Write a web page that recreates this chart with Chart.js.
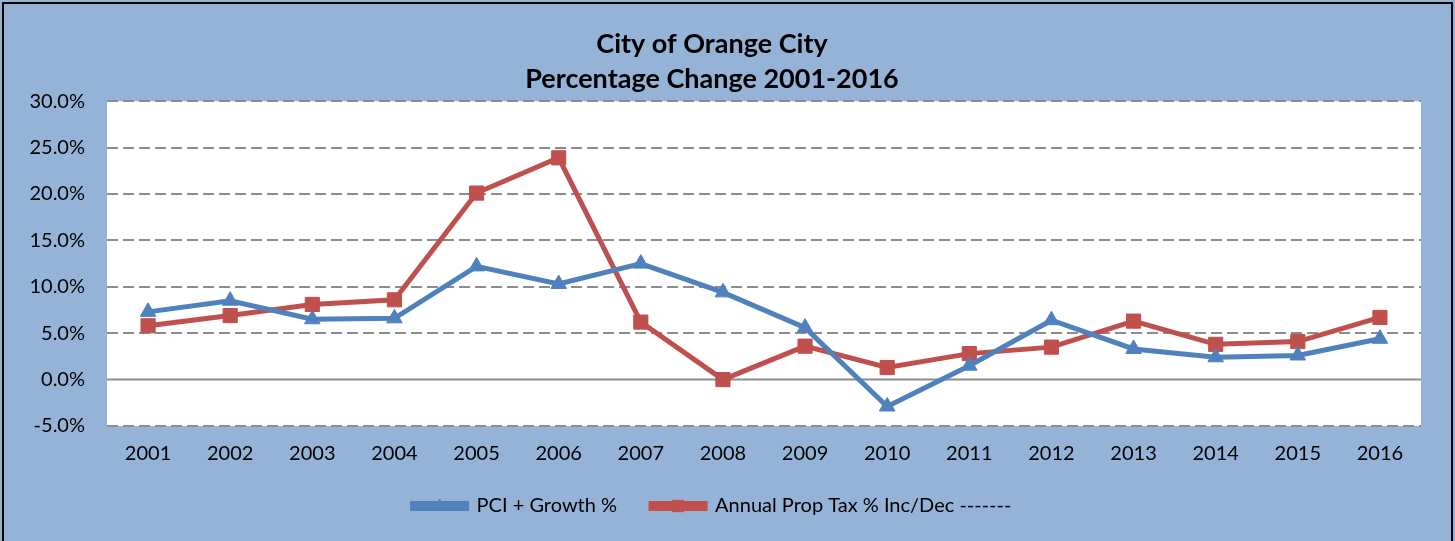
<!DOCTYPE html>
<html>
<head>
<meta charset="utf-8">
<script src="https://cdn.jsdelivr.net/npm/chart.js@4/dist/chart.umd.min.js"></script>
<style>
  html, body { margin: 0; padding: 0; background: #95b3d7; }
  #wrap { width: 1455px; height: 541px; }
</style>
</head>
<body>
<div id="wrap"><canvas id="pctChange" width="1455" height="541"></canvas></div>
<script>
// Colors
var bgColor = "#95b3d7";
var pciColor = "#4f81bd";
var taxColor = "#c0504d";
var gridColor = "#8c8c8c";

// Data
var years = ['2001', '2002', '2003', '2004', '2005', '2006', '2007', '2008',
             '2009', '2010', '2011', '2012', '2013', '2014', '2015', '2016'];
var pciGrowth = [7.3, 8.5, 6.5, 6.6, 12.2, 10.3, 12.5, 9.4, 5.6, -2.9, 1.5, 6.4, 3.3, 2.4, 2.6, 4.4];
var propTax = [5.8, 6.9, 8.1, 8.6, 20.1, 23.9, 6.2, 0.0, 3.6, 1.3, 2.8, 3.5, 6.3, 3.8, 4.1, 6.7];
var yTicks = [-5, 0, 5, 10, 15, 20, 25, 30];

Chart.defaults.font.family = "Lato, 'Open Sans', sans-serif";
Chart.defaults.color = "#000";

var legendBox = 54;

// white plot area + solid zero line + outer border + legend markers
var chartDecor = {
  id: 'chartDecor',
  beforeDraw: function(chart) {
    var ctx = chart.ctx, a = chart.chartArea;
    ctx.save();
    ctx.fillStyle = bgColor;
    ctx.fillRect(0, 0, chart.width, chart.height);
    ctx.fillStyle = "#fff";
    ctx.fillRect(a.left, a.top, a.right - a.left, a.bottom - a.top);
    ctx.restore();
  },
  beforeDatasetsDraw: function(chart) {
    var ctx = chart.ctx, a = chart.chartArea;
    var y0 = chart.scales.y.getPixelForValue(0);
    ctx.save();
    ctx.strokeStyle = gridColor;
    ctx.lineWidth = 2;
    ctx.beginPath();
    ctx.moveTo(a.left, y0);
    ctx.lineTo(a.right, y0);
    ctx.stroke();
    ctx.restore();
  },
  afterDraw: function(chart) {
    var ctx = chart.ctx;
    ctx.save();
    ctx.strokeStyle = "#000";
    ctx.lineWidth = 2;
    ctx.strokeRect(3, 3, chart.width - 6, chart.height + 10);
    // legend markers
    var boxes = chart.legend.legendHitBoxes;
    var styles = ['triangle', 'rect'];
    var radii = [7, 8];
    var colors = [pciColor, taxColor];
    for (var i = 0; i < boxes.length; i++) {
      var b = boxes[i];
      var cx = b.left + legendBox / 2, cy = b.top + b.height / 2;
      ctx.fillStyle = colors[i];
      ctx.strokeStyle = colors[i];
      ctx.lineWidth = 1;
      Chart.helpers.drawPoint(ctx, {pointStyle: styles[i], radius: radii[i], borderWidth: 1}, cx, cy);
    }
    ctx.restore();
  }
};

var pctChart = new Chart(document.getElementById('pctChange'), {
  type: 'line',
  plugins: [chartDecor],
  data: {
    labels: years,
    datasets: [
      {
        label: 'PCI + Growth %',
        data: pciGrowth,
        borderColor: pciColor,
        backgroundColor: pciColor,
        borderWidth: 5,
        pointStyle: 'triangle',
        pointRadius: 9,
        pointBorderWidth: 1,
        tension: 0
      },
      {
        label: 'Annual Prop Tax % Inc/Dec -------',
        data: propTax,
        borderColor: taxColor,
        backgroundColor: taxColor,
        borderWidth: 5,
        pointStyle: 'rect',
        pointRadius: 10,
        pointBorderWidth: 1,
        tension: 0
      }
    ]
  },
  options: {
    responsive: false,
    animation: false,
    layout: { padding: { left: 3, right: 34, top: 8, bottom: 15 } },
    plugins: {
      title: {
        display: true,
        text: ['City of Orange City', 'Percentage Change 2001-2016'],
        font: { size: 27, weight: 'bold', lineHeight: 1.3 },
        padding: { top: 19, bottom: 4 }
      },
      legend: {
        position: 'bottom',
        labels: {
          boxWidth: legendBox,
          boxHeight: 5,
          padding: 34,
          font: { size: 20 }
        }
      },
      tooltip: { enabled: false }
    },
    scales: {
      x: {
        offset: true,
        afterFit: function(scale) { scale.height = 36; },
        grid: { display: false, drawTicks: false },
        border: { display: false },
        ticks: { font: { size: 20 }, padding: 16 }
      },
      y: {
        min: -5,
        max: 30,
        afterFit: function(scale) { scale.width = 104; },
        afterBuildTicks: function(scale) {
          scale.ticks = yTicks.map(function(v) { return { value: v }; });
        },
        grid: {
          color: function(c) { return c.tick && c.tick.value === 0 ? 'rgba(0,0,0,0)' : gridColor; },
          lineWidth: 2,
          drawTicks: false
        },
        border: { display: false, dash: [11, 5] },
        ticks: {
          font: { size: 20 },
          padding: 22,
          callback: function(v) { return v.toFixed(1) + '%'; }
        }
      }
    }
  }
});
</script>
</body>
</html>
